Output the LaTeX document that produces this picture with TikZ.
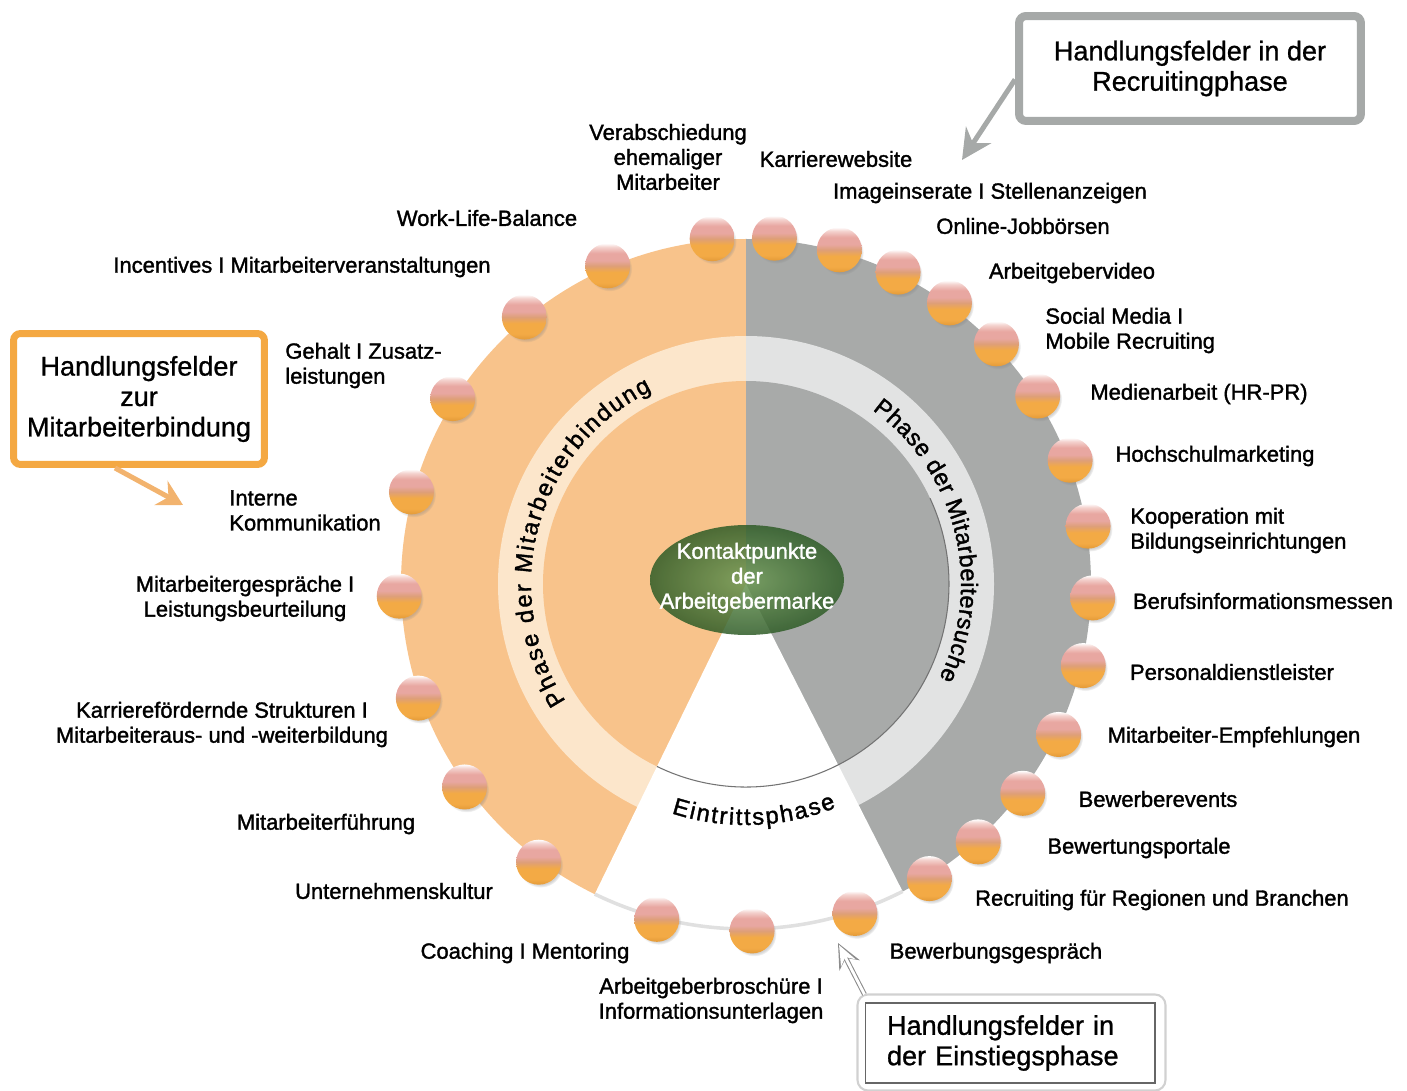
\documentclass[tikz,border=0pt]{standalone}
\usepackage{fontspec}
\setmainfont{Liberation Sans}[FakeBold=0.9]
\newfontfamily\lblfont{Liberation Sans}[FakeBold=1.5]
\usepackage{xcolor}
\usepackage{tikz}
\usetikzlibrary{arrows.meta,positioning,shadows,decorations.text}
\definecolor{peach}{HTML}{F8C38B}
\definecolor{peachring}{HTML}{FCE6CB}
\definecolor{stone}{HTML}{A8AAA9}
\definecolor{stonering}{HTML}{E2E3E3}
\definecolor{amber}{HTML}{F4A842}
\definecolor{amberline}{HTML}{F2B36E}
\definecolor{framegray}{HTML}{A6A9A8}
\definecolor{beaddeep}{HTML}{E39A38}
\definecolor{beadorange}{HTML}{F3AA45}
\definecolor{beadbrown}{HTML}{DE9F78}
\definecolor{beadpink}{HTML}{E8A7A1}
\definecolor{beadpale}{HTML}{F4D3CF}
\definecolor{hubgreen}{HTML}{2F5C27}
\definecolor{hublight}{HTML}{6E9A56}
\pgfdeclareverticalshading{bead}{100bp}{color(0bp)=(beaddeep); color(25bp)=(beaddeep); color(31bp)=(beadorange); color(43bp)=(beadorange); color(50bp)=(beadbrown); color(56bp)=(beadpink); color(64bp)=(beadpink); color(71bp)=(beadpale); color(75bp)=(white); color(100bp)=(white)}

\begin{document}
\begin{tikzpicture}[x=0.02cm,y=0.02cm,
  lbl/.style={font=\lblfont\fontsize{12.5}{14.2}\selectfont,inner sep=0pt,align=center},
  lbll/.style={lbl,align=left,anchor=west},
  bead/.style={circle,minimum size=0.9cm,inner sep=0pt,shading=bead,
    circular drop shadow={shadow xshift=0.4mm,shadow yshift=-0.6mm,shadow scale=1,opacity=0.35}},
  callout/.style={rectangle,rounded corners=4pt,fill=white,align=center,font=\fontsize{15.4}{17.3}\selectfont},
  phasetext/.style={decorate,decoration={text along path,text align=fit to path,
    text={|\lblfont\fontsize{13.5}{15}\selectfont|#1}}},
  graypointer/.style={-{Stealth[length=0.6cm,width=0.6cm,inset=0.2cm]},line width=0.1cm,framegray},
  ambpointer/.style={-{Stealth[length=0.5cm,width=0.55cm,inset=0.17cm]},line width=0.1cm,amberline}]
\useasboundingbox (0,0) rectangle (1407,1090);

% disc with its three phases
\begin{scope}[shift={(746,506)}]
  \foreach \s/\base/\band in {90/peach/peachring,-90/stone/stonering} {
    \fill[\base] (0,0) -- (\s:345) arc[start angle=\s,delta angle=180,radius=345] -- cycle;
    \fill[\band] (0,0) -- (\s:248) arc[start angle=\s,delta angle=180,radius=248] -- cycle;
    \fill[\base] (0,0) -- (\s:203) arc[start angle=\s,delta angle=180,radius=203] -- cycle;
  }
  \fill[white] (0,0) -- (244:352) arc[start angle=244,end angle=297,radius=352] -- cycle;
  \draw[black!12,line width=2pt] (244:345) arc[start angle=244,end angle=297,radius=345];
  \draw[black!55,line width=0.6pt] (244:203) arc[start angle=244,end angle=385,radius=203];
  \path[phasetext={Phase der Mitarbeiterbindung}] (213:215) arc[start angle=213,end angle=116,radius=215];
  \path[phasetext={Phase der Mitarbeitersuche}] (54:215) arc[start angle=54,end angle=-26,radius=215];
  \path[phasetext={Eintrittsphase}] (252:241) arc[start angle=252,end angle=292,radius=241];
  \shade[inner color=hublight,outer color=hubgreen,opacity=0.85] (1,4) ellipse [x radius=97,y radius=55];
  \foreach \a [count=\i] in {95.6,113.5,129.7,147.7,164.6,182,199.2,215.8,233.3,255.1,271,288.3,
      301.9,312,322.9,334.3,346.4,357.7,369.6,380.9,392.8,403.8,414.1,424,434.4,445.3}
    \node[bead] (b\i) at (\a:347) {};
\end{scope}
\node[lbl,text=white] (hub) at (747,512) {Kontaktpunkte\\der\\Arbeitgebermarke};

% Handlungsfelder
\node[lbl] (lab1) at (668,933) {Verabschiedung\\ehemaliger\\Mitarbeiter};
\node[lbl] (lab2) at (487,872) {Work-Life-Balance};
\node[lbl] (lab3) at (302,823) {Incentives I Mitarbeiterveranstaltungen};
\node[lbll] (lab4) at (285,724.5) {Gehalt I Zusatz-\\leistungen};
\node[lbll] (lab5) at (229,579.5) {Interne\\Kommunikation};
\node[lbl] (lab6) at (245,491.5) {Mitarbeitergespräche I\\Leistungsbeurteilung};
\node[lbl] (lab7) at (222,365.5) {Karrierefördernde Strukturen I\\Mitarbeiteraus- und -weiterbildung};
\node[lbl] (lab8) at (326,266) {Mitarbeiterführung};
\node[lbl] (lab9) at (394,199) {Unternehmenskultur};
\node[lbl] (lab10) at (525,137) {Coaching I Mentoring};
\node[lbl] (lab11) at (711,89.5) {Arbeitgeberbroschüre I\\Informationsunterlagen};
\node[lbl] (lab12) at (996,137) {Bewerbungsgespräch};
\node[lbl] (lab13) at (1162,190) {Recruiting für Regionen und Branchen};
\node[lbl] (lab14) at (1139,242) {Bewertungsportale};
\node[lbl] (lab15) at (1158,291) {Bewerberevents};
\node[lbl] (lab16) at (1234,353) {Mitarbeiter-Empfehlungen};
\node[lbl] (lab17) at (1232,418) {Personaldienstleister};
\node[lbl] (lab18) at (1263,489) {Berufsinformationsmessen};
\node[lbll] (lab19) at (1130,559.5) {Kooperation mit\\Bildungseinrichtungen};
\node[lbl] (lab20) at (1215,634) {Hochschulmarketing};
\node[lbl] (lab21) at (1199,696) {Medienarbeit (HR-PR)};
\node[lbll] (lab22) at (1045,759.5) {Social Media I\\Mobile Recruiting};
\node[lbl] (lab23) at (1072,817) {Arbeitgebervideo};
\node[lbl] (lab24) at (1023,864) {Online-Jobbörsen};
\node[lbl] (lab25) at (990,897) {Imageinserate I Stellenanzeigen};
\node[lbl] (lab26) at (836,931) {Karrierewebsite};

% callouts
\node[callout,draw=framegray,line width=0.16cm,minimum width=6.84cm,minimum height=2.1cm] (recbox) at (1190,1021.5) {Handlungsfelder in der\\Recruitingphase};
\node[callout,draw=amber,line width=0.14cm,minimum width=5.02cm,minimum height=2.62cm] (bindbox) at (139,691) {Handlungsfelder\\zur\\Mitarbeiterbindung};
\node[callout,draw=black!60,line width=0.6pt,rounded corners=0pt,align=left,text width=4.92cm,inner xsep=0.44cm,minimum height=1.6cm] (einbox) at (1010,47) {Handlungsfelder in\\der Einstiegsphase};
\draw[black!18,line width=1.2pt,rounded corners=6pt] ([shift={(-7,-7)}]einbox.south west) rectangle ([shift={(10,8)}]einbox.north east);

\coordinate (rectip) at (962,930);
\coordinate (bindtip) at (183,585);
\coordinate (eintip) at (838,147);
\draw[graypointer] ([shift={(0,-11)}]recbox.west) -- (rectip);
\draw[ambpointer] ([shift={(-24,0)}]bindbox.south) -- (bindtip);
\draw[-{Stealth[length=0.5cm,width=0.45cm]},line width=2.8pt,black!45] ([shift={(0,8)}]einbox.north west) -- (eintip);
\draw[-{Stealth[length=0.4cm,width=0.32cm]},line width=1.6pt,white,shorten >=1.3pt] ([shift={(0,8)}]einbox.north west) -- (eintip);
\end{tikzpicture}
\end{document}
